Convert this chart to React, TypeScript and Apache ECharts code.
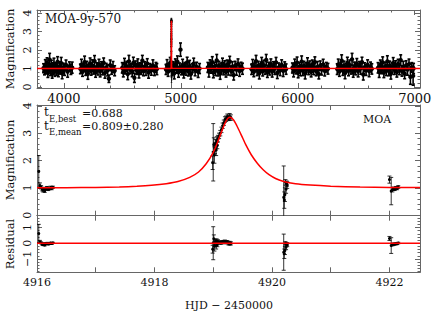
import React, { useEffect, useRef } from 'react';
import * as echarts from 'echarts';

const FONT = '"DejaVu Serif", serif';
const INK = '#111';
const FRAME = '#666';
const RED = '#ff0000';

// ---- tick labels ----
const TOP_X_LABELS = [4000, 5000, 6000, 7000];
const MAG_TICKS = [0, 1, 2, 3, 4];
const HJD_TICKS = [4916, 4917, 4918, 4919, 4920, 4921, 4922];
const HJD_LABELS = [4916, 4918, 4920, 4922];
const RES_TICKS = [-1, 0, 1];

// ---- 9-year baseline (HJD-2450000, magnification, error) ----
const season1 = [[3826,1.02,0.24],[3834,0.86,0.2],[3841,1.18,0.3],[3848,0.95,0.22],[3856,1.32,0.26],[3863,0.76,0.24],[3870,1.08,0.2],[3878,1.48,0.34],[3885,0.9,0.28],[3893,1.21,0.24],[3900,0.7,0.22],[3908,1.04,0.27],[3915,1.26,0.3],[3923,0.84,0.26],[3930,1.12,0.2],[3938,0.97,0.33],[3946,1.36,0.28],[3953,0.8,0.24],[3961,1.1,0.27],[3969,0.91,0.21],[3977,1.29,0.31],[3985,0.74,0.29],[3994,1.06,0.23],[4005,0.93,0.3],[4018,1.19,0.27],[4032,0.83,0.3],[4047,1.11,0.25],[4060,0.96,0.28],[4071,1.05,0.3]];
const season2 = [[4141,0.98,0.26],[4150,1.2,0.3],[4159,0.82,0.24],[4168,1.07,0.22],[4177,1.35,0.32],[4186,0.9,0.27],[4196,1.14,0.25],[4205,0.72,0.3],[4214,1.02,0.2],[4224,1.28,0.29],[4233,0.87,0.23],[4243,1.16,0.31],[4252,0.95,0.25],[4262,1.4,0.3],[4271,0.79,0.26],[4281,1.09,0.22],[4291,0.93,0.28],[4300,1.23,0.27],[4310,0.85,0.3],[4320,1.13,0.24],[4330,0.99,0.33],[4340,1.31,0.26],[4351,0.77,0.29],[4362,1.05,0.23],[4374,0.9,0.3],[4385,0.45,0.2],[4396,1.18,0.28],[4408,0.94,0.25],[4420,1.08,0.3],[4434,0.88,0.27]];
const season3 = [[4499,1.04,0.28],[4508,0.8,0.25],[4518,1.25,0.3],[4527,0.93,0.22],[4537,1.12,0.27],[4546,0.7,0.3],[4556,1.38,0.33],[4565,0.96,0.24],[4575,1.06,0.2],[4584,0.84,0.28],[4594,1.3,0.31],[4603,0.5,0.25],[4613,1.15,0.26],[4622,0.91,0.23],[4632,1.22,0.3],[4642,0.76,0.27],[4651,1.09,0.22],[4661,0.98,0.3],[4671,1.42,0.29],[4681,0.86,0.25],[4691,1.1,0.27],[4702,0.95,0.32],[4713,1.27,0.26],[4724,0.78,0.3],[4736,1.03,0.24],[4748,0.92,0.28],[4761,1.17,0.3],[4774,0.87,0.25],[4787,1.06,0.27],[4795,0.97,0.3]];
const season4 = [[4873,0.95,0.27],[4882,1.18,0.3],[4891,0.83,0.25],[4900,1.07,0.22],[4909,1.3,0.3],[4926,0.88,0.26],[4935,1.13,0.24],[4944,0.74,0.3],[4953,1.24,0.28],[4962,0.97,0.22],[4971,1.36,0.32],[4980,0.8,0.27],[4989,1.05,0.25],[4997,2.02,0.36],[5006,0.92,0.26],[5015,1.2,0.3],[5025,0.77,0.28],[5034,1.1,0.23],[5044,0.95,0.31],[5054,1.33,0.28],[5064,0.85,0.25],[5075,1.14,0.3],[5086,0.7,0.27],[5098,1.02,0.24],[5110,1.26,0.3],[5122,0.89,0.28],[5135,1.08,0.26],[5148,0.82,0.3],[5160,1.0,0.27]];
const season5 = [[5231,1.06,0.27],[5240,0.84,0.3],[5250,1.22,0.25],[5259,0.97,0.22],[5269,1.34,0.3],[5278,0.78,0.28],[5288,1.1,0.24],[5297,0.92,0.3],[5307,1.44,0.32],[5317,0.86,0.26],[5326,1.16,0.23],[5336,0.72,0.3],[5346,1.03,0.27],[5356,1.27,0.29],[5366,0.9,0.24],[5376,1.12,0.3],[5386,0.81,0.27],[5396,1.21,0.25],[5407,0.96,0.31],[5418,1.38,0.28],[5429,0.88,0.26],[5440,1.07,0.3],[5452,0.65,0.27],[5464,1.15,0.24],[5476,0.94,0.3],[5489,1.25,0.27],[5502,0.87,0.29],[5515,1.09,0.25],[5527,0.99,0.3]];
const season6 = [[5605,0.96,0.28],[5614,1.19,0.3],[5624,0.82,0.26],[5633,1.08,0.23],[5643,1.4,0.31],[5652,0.89,0.27],[5662,1.14,0.25],[5671,0.74,0.3],[5681,1.03,0.22],[5691,1.3,0.3],[5700,0.86,0.26],[5710,1.17,0.28],[5720,0.93,0.24],[5730,1.46,0.3],[5740,0.79,0.27],[5750,1.11,0.23],[5760,0.95,0.3],[5770,1.24,0.28],[5781,0.84,0.3],[5792,1.12,0.25],[5803,1.0,0.32],[5814,1.33,0.27],[5825,0.76,0.3],[5837,1.06,0.24],[5849,0.91,0.29],[5862,1.2,0.27],[5875,0.87,0.3],[5888,1.1,0.26],[5900,0.97,0.28]];
const season7 = [[5954,1.03,0.27],[5964,0.85,0.3],[5974,1.24,0.27],[5984,0.94,0.23],[5994,1.32,0.3],[6003,0.77,0.27],[6013,1.09,0.24],[6023,0.91,0.3],[6033,1.37,0.31],[6043,0.88,0.26],[6053,1.15,0.24],[6063,0.73,0.29],[6073,1.05,0.26],[6083,1.28,0.3],[6093,0.92,0.25],[6103,1.13,0.28],[6114,0.82,0.27],[6124,1.22,0.24],[6135,0.97,0.3],[6146,1.35,0.28],[6157,0.86,0.25],[6168,1.08,0.3],[6180,0.7,0.26],[6192,1.16,0.25],[6204,0.95,0.3],[6217,1.23,0.27],[6230,0.88,0.28],[6244,1.07,0.26],[6258,0.99,0.29]];
const season8 = [[6337,0.97,0.29],[6346,1.21,0.3],[6356,0.83,0.25],[6366,1.1,0.23],[6375,1.42,0.32],[6385,0.9,0.27],[6395,1.15,0.25],[6404,0.75,0.3],[6414,1.04,0.22],[6424,1.31,0.3],[6434,0.87,0.26],[6444,1.18,0.28],[6454,0.94,0.24],[6464,1.5,0.32],[6474,0.8,0.27],[6484,1.12,0.23],[6494,0.96,0.3],[6505,1.26,0.28],[6516,0.85,0.3],[6527,1.13,0.25],[6538,1.01,0.32],[6549,1.34,0.27],[6560,0.68,0.3],[6572,1.07,0.24],[6584,0.92,0.29],[6597,1.2,0.27],[6610,0.86,0.3],[6622,1.09,0.26],[6633,0.98,0.28]];
const season9 = [[6686,1.04,0.28],[6696,0.82,0.3],[6706,1.2,0.26],[6716,0.95,0.23],[6726,1.33,0.3],[6736,0.78,0.27],[6746,1.1,0.24],[6756,0.92,0.3],[6766,1.38,0.31],[6776,0.87,0.26],[6786,1.16,0.24],[6796,0.72,0.29],[6806,1.06,0.26],[6816,1.29,0.3],[6826,0.93,0.25],[6836,1.14,0.28],[6847,0.81,0.27],[6858,1.25,0.25],[6869,0.97,0.3],[6880,1.45,0.29],[6891,0.85,0.26],[6902,1.09,0.3],[6914,0.72,0.27],[6926,1.17,0.25],[6938,0.94,0.3],[6951,1.24,0.27],[6963,0.55,0.4],[6975,1.06,0.26],[6986,0.6,0.5],[6990,1.0,0.28]];

// ---- event data (HJD-2450000, magnification, error) ----
const eventData = [[4916.03,1.6,0.58],[4916.05,1.08,0.1],[4916.07,1.02,0.06],[4916.09,0.95,0.06],[4916.1,0.92,0.07],[4916.12,0.97,0.05],[4916.13,0.88,0.05],[4916.15,0.96,0.05],[4916.17,1.0,0.05],[4916.19,0.95,0.05],[4916.21,0.97,0.04],[4916.23,1.01,0.05],[4916.25,0.98,0.05],[4916.27,1.02,0.04],
[4918.99,1.92,0.25],[4919.0,2.3,1.05],[4919.01,2.58,0.25],[4919.02,2.2,0.3],[4919.03,2.45,0.2],[4919.04,2.62,0.15],[4919.05,2.38,0.2],[4919.06,2.72,0.15],[4919.07,2.55,0.12],[4919.08,2.8,0.12],[4919.1,2.9,0.1],[4919.12,3.0,0.1],[4919.14,3.12,0.1],[4919.16,3.27,0.1],[4919.18,3.38,0.1],[4919.2,3.5,0.1],[4919.22,3.53,0.1],[4919.24,3.6,0.1],[4919.26,3.56,0.1],[4919.28,3.6,0.12],[4919.3,3.57,0.1],
[4920.2,0.65,1.15],[4920.21,0.55,0.3],[4920.22,0.75,0.25],[4920.23,1.2,0.1],[4920.24,0.95,0.15],[4920.25,1.15,0.1],[4920.26,1.1,0.12],
[4922.0,1.3,0.13],[4922.03,0.88,0.5],[4922.05,0.93,0.08],[4922.07,0.97,0.06],[4922.09,0.95,0.05],[4922.11,1.0,0.05],[4922.13,0.98,0.05],[4922.15,1.03,0.05]];

const residualData = [[4916.03,0.62,0.58],[4916.05,0.08,0.1],[4916.07,0.02,0.06],[4916.09,-0.05,0.06],[4916.1,-0.08,0.07],[4916.12,-0.03,0.05],[4916.13,-0.12,0.05],[4916.15,-0.04,0.05],[4916.17,0.0,0.05],[4916.19,-0.05,0.05],[4916.21,-0.03,0.04],[4916.23,0.01,0.05],[4916.25,-0.02,0.05],[4916.27,0.02,0.04],
[4918.99,-0.38,0.25],[4919.0,0.0,1.05],[4919.01,0.28,0.25],[4919.02,-0.2,0.3],[4919.03,0.0,0.2],[4919.04,0.12,0.15],[4919.05,-0.17,0.2],[4919.06,0.12,0.15],[4919.07,-0.1,0.12],[4919.08,0.1,0.12],[4919.1,0.05,0.1],[4919.12,0.04,0.1],[4919.14,0.04,0.1],[4919.16,0.07,0.1],[4919.18,0.08,0.1],[4919.2,0.1,0.1],[4919.22,0.06,0.1],[4919.24,0.07,0.1],[4919.26,-0.01,0.1],[4919.28,0.0,0.12],[4919.3,-0.01,0.1],
[4920.2,-0.57,1.15],[4920.21,-0.67,0.3],[4920.22,-0.47,0.25],[4920.23,0.0,0.1],[4920.24,-0.26,0.15],[4920.25,-0.06,0.1],[4920.26,-0.1,0.12],
[4922.0,0.3,0.13],[4922.03,-0.15,0.5],[4922.05,-0.09,0.08],[4922.07,-0.05,0.06],[4922.09,-0.07,0.05],[4922.11,-0.02,0.05],[4922.13,-0.04,0.05],[4922.15,0.01,0.05]];

// ---- model ----
const modelCurve = [[4916.0,1.0],[4916.5,1.004],[4917.0,1.012],[4917.4,1.03],[4917.7,1.055],[4917.95,1.09],[4918.2,1.15],[4918.4,1.23],[4918.6,1.38],[4918.75,1.58],[4918.88,1.88],[4919.0,2.3],[4919.08,2.7],[4919.15,3.1],[4919.22,3.45],[4919.28,3.58],[4919.34,3.5],[4919.4,3.28],[4919.48,2.92],[4919.56,2.55],[4919.65,2.2],[4919.75,1.9],[4919.85,1.66],[4919.95,1.48],[4920.07,1.33],[4920.2,1.23],[4920.4,1.15],[4920.65,1.1],[4921.0,1.06],[4921.5,1.03],[4922.0,1.015],[4922.52,1.01]];
const baselineModel = [[3770, 1.0], [7045, 1.0]];
const residualZero = [[4916, 0], [4922.52, 0]];

// ---- ranges ----
const TOP_X = [3770, 7045];
const TOP_Y = [-0.05, 4.16];
const EV_X = [4916, 4922.52];
const MID_Y = [-0.02, 4.03];
const RES_Y = [-1.85, 1.75];

function between(a: number, b: number, step: number, skipEvery: number) {
  const out: number[] = [];
  const n = Math.round((b - a) / step);
  for (let i = 0; i <= n; i++) {
    const v = Math.round((a + i * step) * 1000) / 1000;
    if (Math.abs(v / skipEvery - Math.round(v / skipEvery)) > 1e-6) out.push(v);
  }
  return out;
}

const fmt = (v: number) => (v < 0 ? '\u2212' + Math.abs(v) : String(v));

function axisGroup(
  kind: 'x' | 'y', grid: number, range: number[], major: number[], minor: number[],
  labels: number[] | null, fontSize: number, margin: number
) {
  const pos = kind === 'x' ? ['bottom', 'top'] : ['left', 'right'];
  const base = (p: string) => ({
    type: 'value', gridIndex: grid, position: p, min: range[0], max: range[1],
    splitLine: { show: false },
    axisLine: { show: false, onZero: false },
    axisPointer: { show: false },
  });
  const res: any[] = [];
  pos.forEach((p, k) => {
    res.push({
      ...base(p),
      axisLine: { show: true, onZero: false, lineStyle: { color: FRAME, width: 1 } },
      axisTick: { show: major.length > 0, inside: true, length: 5, customValues: major, lineStyle: { color: FRAME, width: 1 } },
      axisLabel: k === 0 && labels ? {
        show: true, customValues: labels, formatter: fmt, fontFamily: FONT, fontSize, color: INK, margin,
        rotate: kind === 'y' ? 90 : 0,
      } : { show: false },
    });
    res.push({
      ...base(p),
      axisTick: { show: minor.length > 0, inside: true, length: 2.5, customValues: minor, lineStyle: { color: FRAME, width: 1 } },
      axisLabel: { show: false },
    });
  });
  return res;
}

function errorBars(data: number[][], xi: number, yi: number, cap: number, r: number, lw: number) {
  return {
    type: 'custom', xAxisIndex: xi, yAxisIndex: yi, clip: true, z: 2, silent: true,
    encode: { x: 0, y: 1 }, data,
    renderItem: (_p: any, api: any) => {
      const x = api.value(0), y = api.value(1), e = api.value(2);
      const c = api.coord([x, y]);
      const t = api.coord([x, y + e]);
      const b = api.coord([x, y - e]);
      const style = { stroke: '#000', lineWidth: lw };
      return {
        type: 'group', children: [
          { type: 'line', shape: { x1: t[0], y1: t[1], x2: b[0], y2: b[1] }, style },
          { type: 'line', shape: { x1: t[0] - cap, y1: t[1], x2: t[0] + cap, y2: t[1] }, style },
          { type: 'line', shape: { x1: b[0] - cap, y1: b[1], x2: b[0] + cap, y2: b[1] }, style },
          { type: 'circle', shape: { cx: c[0], cy: c[1], r }, style: { fill: '#000' } },
        ],
      };
    },
  };
}

function txt(id: string, x: number, y: number, text: string, size: number, align = 'left', rot = 0) {
  return {
    id, type: 'text', x, y, rotation: rot, silent: true, z: 10,
    style: { text, font: `${size}px ${FONT}`, fill: INK, textAlign: align, textVerticalAlign: 'middle' },
  };
}

export default function App() {
  const ref = useRef<HTMLDivElement>(null);
  useEffect(() => {
    if (!ref.current) return;
    const chart = echarts.init(ref.current, undefined, { renderer: 'svg' });
    const baseline = [...season1, ...season2, ...season3, ...season4, ...season5, ...season6, ...season7, ...season8, ...season9];
    const grids = [
      { left: 37, right: 16, top: 10, height: 78 },
      { left: 37, right: 16, top: 105, height: 110.7 },
      { left: 37, right: 16, top: 215.7, height: 56.6 },
    ];
    const xAxis = [
      ...axisGroup('x', 0, TOP_X, TOP_X_LABELS, between(3800, 7000, 200, 1000), TOP_X_LABELS, 13, 4),
      ...axisGroup('x', 1, EV_X, HJD_TICKS, [], null, 11, 5),
      ...axisGroup('x', 2, EV_X, HJD_TICKS, [], HJD_LABELS, 11, 5),
    ];
    const yAxis = [
      ...axisGroup('y', 0, TOP_Y, MAG_TICKS, between(0, 4, 0.2, 1), MAG_TICKS, 11, 4),
      ...axisGroup('y', 1, MID_Y, MAG_TICKS, between(0, 4, 0.2, 1), MAG_TICKS, 11, 4),
      ...axisGroup('y', 2, RES_Y, RES_TICKS, between(-1.8, 1.6, 0.2, 1), RES_TICKS, 11, 4),
    ];
    const line = (data: number[][], xi: number, yi: number, w: number, smooth: number) => ({
      type: 'line', xAxisIndex: xi, yAxisIndex: yi, data, showSymbol: false, symbol: 'none',
      smooth, lineStyle: { color: RED, width: w }, z: 3, clip: true, silent: true,
    });
    chart.setOption({
      animation: false,
      grid: grids,
      xAxis, yAxis,
      series: [
        errorBars(baseline, 0, 0, 1.5, 2.2, 1.6),
        errorBars(eventData, 0, 0, 0.8, 1.0, 0.6),
        line([baselineModel[0], ...modelCurve, baselineModel[1]], 0, 0, 1.6, 0),
        errorBars(eventData, 4, 4, 2, 1.5, 0.8),
        line(modelCurve, 4, 4, 1.5, 0.25),
        errorBars(residualData, 8, 8, 2, 1.5, 0.8),
        line(residualZero, 8, 8, 1.5, 0),
      ],
      graphic: [
        txt('title', 45, 19, 'MOA-9y-570', 12),
        txt('ylab1', 10, 49, 'Magnification', 11.5, 'center', Math.PI / 2),
        txt('ylab2', 10, 160, 'Magnification', 11.5, 'center', Math.PI / 2),
        txt('ylab3', 10, 244, 'Residual', 11.5, 'center', Math.PI / 2),
        txt('xlab', 229, 305, 'HJD \u2212 2450000', 11, 'center'),
        txt('moa', 377, 119, 'MOA', 11, 'center'),
        txt('t1', 44, 112, 't', 12),
        txt('s1', 49, 118.5, 'E,best', 8.5),
        txt('v1', 82, 113, '=0.688', 11),
        txt('t2', 44, 125.5, 't', 12),
        txt('s2', 49, 131.5, 'E,mean', 8.5),
        txt('v2', 82, 126.5, '=0.809\u00b10.280', 11),
      ],
    });
    return () => chart.dispose();
  }, []);
  return <div ref={ref} style={{ position: 'absolute', left: 0, top: 0, width: 436, height: 317 }} />;
}
